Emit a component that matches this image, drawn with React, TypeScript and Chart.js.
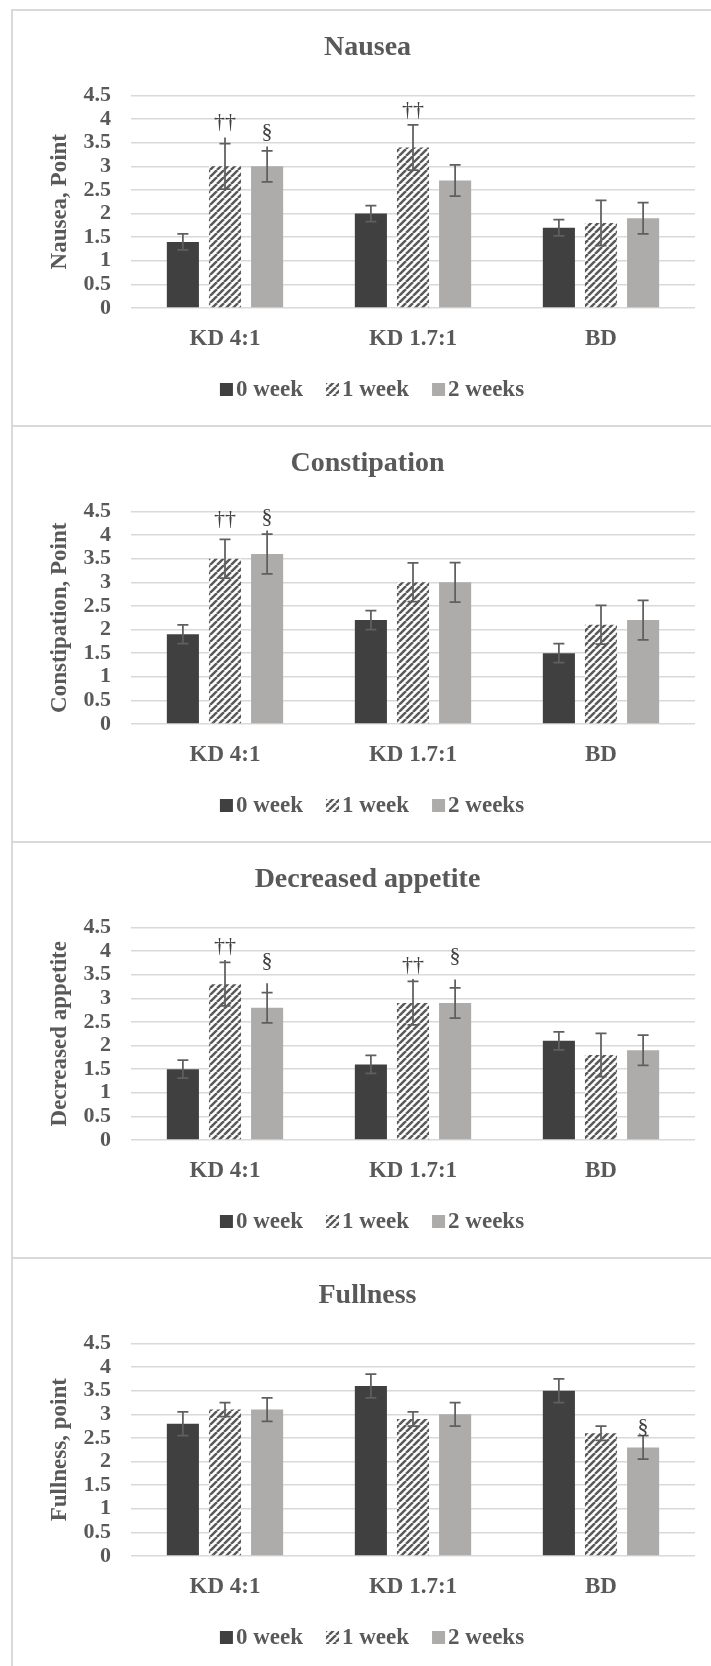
import React, { useEffect, useRef } from 'react';
import { Chart, registerables } from 'chart.js';

Chart.register(...registerables);

// ---------------- data ----------------
const CATEGORIES = ['KD 4:1', 'KD 1.7:1', 'BD'];
const SERIES_LABELS = ['0 week', '1 week', '2 weeks'];
const Y_TICKS = [0, 0.5, 1, 1.5, 2, 2.5, 3, 3.5, 4, 4.5];

const NAUSEA_0W = [1.4, 2.0, 1.7];
const NAUSEA_1W = [3.0, 3.4, 1.8];
const NAUSEA_2W = [3.0, 2.7, 1.9];
const NAUSEA_ERR_0W = [0.17, 0.17, 0.17];
const NAUSEA_ERR_1W = [0.48, 0.48, 0.48];
const NAUSEA_ERR_2W = [0.33, 0.33, 0.33];
// [series, category, mark, value at which the mark sits]
const NAUSEA_MARKS: [number, number, string, number][] = [[1, 0, '††', 3.93], [2, 0, '§', 3.73], [1, 1, '††', 4.19]];
// [series, category, top of the error-bar stem]
const NAUSEA_STEMS: [number, number, number][] = [[1, 0, 3.61], [2, 0, 3.42]];

const CONSTIPATION_0W = [1.9, 2.2, 1.5];
const CONSTIPATION_1W = [3.5, 3.0, 2.1];
const CONSTIPATION_2W = [3.6, 3.0, 2.2];
const CONSTIPATION_ERR_0W = [0.2, 0.2, 0.2];
const CONSTIPATION_ERR_1W = [0.41, 0.41, 0.41];
const CONSTIPATION_ERR_2W = [0.42, 0.42, 0.42];
const CONSTIPATION_MARKS: [number, number, string, number][] = [[1, 0, '††', 4.33], [2, 0, '§', 4.37]];
const CONSTIPATION_STEMS: [number, number, number][] = [[2, 0, 4.1]];

const APPETITE_0W = [1.5, 1.6, 2.1];
const APPETITE_1W = [3.3, 2.9, 1.8];
const APPETITE_2W = [2.8, 2.9, 1.9];
const APPETITE_ERR_0W = [0.19, 0.19, 0.19];
const APPETITE_ERR_1W = [0.46, 0.46, 0.46];
const APPETITE_ERR_2W = [0.32, 0.32, 0.32];
const APPETITE_MARKS: [number, number, string, number][] = [[1, 0, '††', 4.11], [2, 0, '§', 3.78], [1, 1, '††', 3.7], [2, 1, '§', 3.9]];
const APPETITE_STEMS: [number, number, number][] = [[1, 0, 3.81], [2, 0, 3.32], [1, 1, 3.41], [2, 1, 3.4]];

const FULLNESS_0W = [2.8, 3.6, 3.5];
const FULLNESS_1W = [3.1, 2.9, 2.6];
const FULLNESS_2W = [3.1, 3.0, 2.3];
const FULLNESS_ERR_0W = [0.25, 0.25, 0.25];
const FULLNESS_ERR_1W = [0.15, 0.15, 0.15];
const FULLNESS_ERR_2W = [0.25, 0.25, 0.25];
const FULLNESS_MARKS: [number, number, string, number][] = [[2, 2, '§', 2.72]];
const FULLNESS_STEMS: [number, number, number][] = [];

const PANELS = [
  { title: 'Nausea', yTitle: 'Nausea, Point', values: [NAUSEA_0W, NAUSEA_1W, NAUSEA_2W], errors: [NAUSEA_ERR_0W, NAUSEA_ERR_1W, NAUSEA_ERR_2W], marks: NAUSEA_MARKS, stems: NAUSEA_STEMS },
  { title: 'Constipation', yTitle: 'Constipation, Point', values: [CONSTIPATION_0W, CONSTIPATION_1W, CONSTIPATION_2W], errors: [CONSTIPATION_ERR_0W, CONSTIPATION_ERR_1W, CONSTIPATION_ERR_2W], marks: CONSTIPATION_MARKS, stems: CONSTIPATION_STEMS },
  { title: 'Decreased appetite', yTitle: 'Decreased appetite', values: [APPETITE_0W, APPETITE_1W, APPETITE_2W], errors: [APPETITE_ERR_0W, APPETITE_ERR_1W, APPETITE_ERR_2W], marks: APPETITE_MARKS, stems: APPETITE_STEMS },
  { title: 'Fullness', yTitle: 'Fullness, point', values: [FULLNESS_0W, FULLNESS_1W, FULLNESS_2W], errors: [FULLNESS_ERR_0W, FULLNESS_ERR_1W, FULLNESS_ERR_2W], marks: FULLNESS_MARKS, stems: FULLNESS_STEMS },
];

// ---------------- styles ----------------
const FONT = "'Liberation Serif', 'Times New Roman', serif";
const TEXT = '#595959';
const DARK = '#404040';
const LIGHT = '#aeabab';
const HATCH = '#5a5a5a';
const ERR = '#5f5f5f';
const GRID = '#d9d9d9';

const W = 711;
const PANEL_H = 416;
const PANEL_TOP0 = 9;

function makeHatch(): CanvasPattern | string {
  const c = document.createElement('canvas');
  const s = 7;
  c.width = s;
  c.height = s;
  const g = c.getContext('2d');
  if (!g) return HATCH;
  g.fillStyle = '#ffffff';
  g.fillRect(0, 0, s, s);
  g.strokeStyle = HATCH;
  g.lineWidth = 2.5;
  g.beginPath();
  for (const o of [-s, 0, s]) {
    g.moveTo(o, s);
    g.lineTo(o + s, 0);
  }
  g.stroke();
  return g.createPattern(c, 'repeat') || HATCH;
}

type PanelCfg = typeof PANELS[number];

function Panel({ cfg, top }: { cfg: PanelCfg; top: number }) {
  const ref = useRef<HTMLCanvasElement>(null);

  useEffect(() => {
    const canvas = ref.current;
    if (!canvas) return;
    const hatch = makeHatch();
    const fills: any[] = [DARK, hatch, LIGHT];

    const overlay = {
      id: 'overlay',
      afterDatasetsDraw(chart: any) {
        const { ctx } = chart;
        const y = chart.scales.y;
        ctx.save();
        // error bars
        ctx.strokeStyle = ERR;
        ctx.lineWidth = 1.75;
        chart.data.datasets.forEach((ds: any, si: number) => {
          const meta = chart.getDatasetMeta(si);
          meta.data.forEach((bar: any, ci: number) => {
            const v = ds.data[ci];
            const e = cfg.errors[si][ci];
            const x = bar.x;
            const yHi = y.getPixelForValue(v + e);
            const yLo = y.getPixelForValue(v - e);
            const stem = cfg.stems.find((s) => s[0] === si && s[1] === ci);
            const yTop = stem ? Math.min(y.getPixelForValue(stem[2]), yHi) : yHi;
            const hw = 5.5;
            ctx.beginPath();
            ctx.moveTo(x, yLo);
            ctx.lineTo(x, yTop);
            ctx.moveTo(x - hw, yHi);
            ctx.lineTo(x + hw, yHi);
            ctx.moveTo(x - hw, yLo);
            ctx.lineTo(x + hw, yLo);
            ctx.stroke();
          });
        });
        // significance marks
        ctx.fillStyle = DARK;
        ctx.font = `22px ${FONT}`;
        ctx.textAlign = 'center';
        ctx.textBaseline = 'middle';
        cfg.marks.forEach(([si, ci, txt, val]) => {
          const bar = chart.getDatasetMeta(si).data[ci];
          ctx.fillText(txt, bar.x, y.getPixelForValue(val));
        });
        ctx.restore();
      },
      afterDraw(chart: any) {
        const { ctx } = chart;
        ctx.save();
        // title
        ctx.fillStyle = TEXT;
        ctx.font = `bold 28px ${FONT}`;
        ctx.textAlign = 'center';
        ctx.textBaseline = 'alphabetic';
        ctx.fillText(cfg.title, 367.5, 46);
        // legend
        ctx.font = `bold 23px ${FONT}`;
        ctx.textAlign = 'left';
        const box = 13;
        const gapBox = 3;
        const gapItem = 23;
        const widths = SERIES_LABELS.map((t) => ctx.measureText(t).width);
        const total = widths.reduce((a, b) => a + b, 0) + SERIES_LABELS.length * (box + gapBox) + gapItem * (SERIES_LABELS.length - 1);
        let x = 372 - total / 2;
        const base = 387;
        SERIES_LABELS.forEach((t, i) => {
          ctx.fillStyle = fills[i];
          ctx.fillRect(x, base - box, box, box);
          x += box + gapBox;
          ctx.fillStyle = TEXT;
          ctx.fillText(t, x, base);
          x += widths[i] + gapItem;
        });
        ctx.restore();
      },
    };

    const chart = new Chart(canvas, {
      type: 'bar',
      data: {
        labels: CATEGORIES,
        datasets: SERIES_LABELS.map((label, i) => ({
          label,
          data: cfg.values[i],
          backgroundColor: fills[i],
          borderWidth: 0,
          categoryPercentage: 0.672,
          barPercentage: 0.762,
        })),
      },
      options: {
        responsive: false,
        animation: false,
        devicePixelRatio: 1,
        events: [],
        layout: { padding: { left: 0, right: 16, top: 86.5, bottom: 57 } },
        plugins: {
          legend: { display: false },
          title: { display: false },
          tooltip: { enabled: false },
        },
        scales: {
          x: {
            grid: { display: false },
            border: { display: false },
            ticks: {
              color: TEXT,
              font: { family: FONT, size: 23, weight: 'bold' },
              padding: 9,
              autoSkip: false,
              maxRotation: 0,
            },
            afterFit: (s: any) => {
              s.height = 60;
            },
          },
          y: {
            min: 0,
            max: 4.5,
            afterBuildTicks: (s: any) => {
              s.ticks = Y_TICKS.map((v) => ({ value: v }));
            },
            ticks: {
              color: TEXT,
              font: { family: FONT, size: 22, weight: 'bold' },
              padding: 20,
              autoSkip: false,
              callback: (v: any) => String(v),
            },
            grid: { color: GRID, lineWidth: 1.5, drawTicks: false },
            border: { display: false },
            title: {
              display: true,
              text: cfg.yTitle,
              color: TEXT,
              font: { family: FONT, size: 23, weight: 'bold' },
              padding: { top: 46, bottom: 0 },
            },
            afterFit: (s: any) => {
              s.width = 131;
            },
          },
        },
      } as any,
      plugins: [overlay],
    });
    return () => chart.destroy();
  }, [cfg]);

  return (
    <>
      <div
        style={{
          position: 'absolute',
          left: 11,
          top,
          width: W - 11,
          height: PANEL_H,
          borderTop: `2px solid ${GRID}`,
          borderLeft: `2px solid ${GRID}`,
          boxSizing: 'border-box',
        }}
      />
      <canvas
        ref={ref}
        width={W}
        height={PANEL_H}
        style={{ position: 'absolute', left: 0, top, width: W, height: PANEL_H }}
      />
    </>
  );
}

export default function App() {
  return (
    <div
      style={{
        position: 'absolute',
        left: 0,
        top: 0,
        width: W,
        height: 1666,
        overflow: 'hidden',
        background: '#ffffff',
      }}
    >
      {PANELS.map((p, i) => (
        <Panel key={p.title} cfg={p} top={PANEL_TOP0 + i * PANEL_H} />
      ))}
    </div>
  );
}
